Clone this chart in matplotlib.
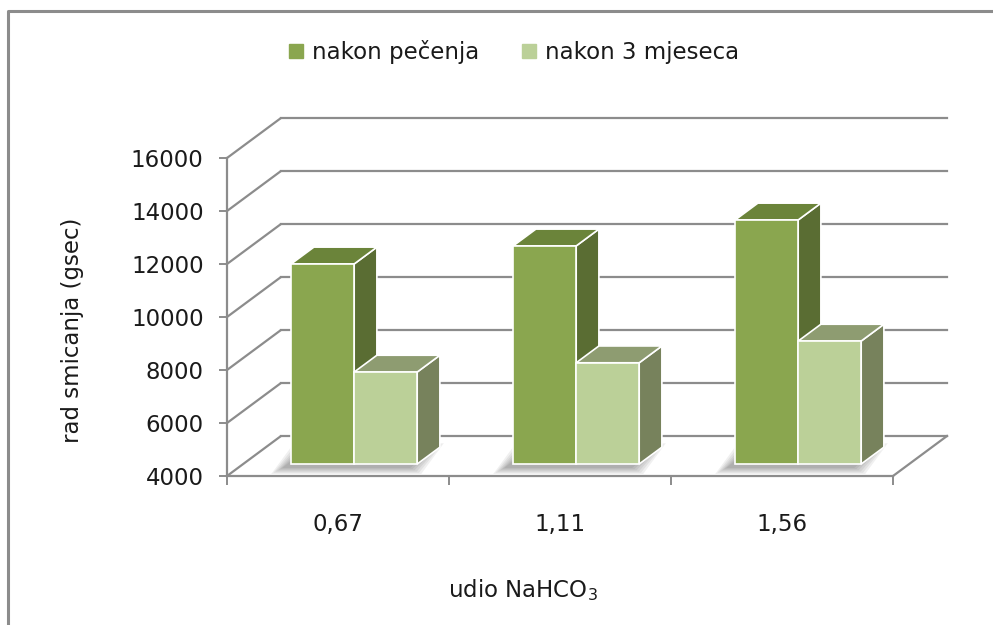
import matplotlib
matplotlib.use('Agg')
import matplotlib.pyplot as plt
from matplotlib.patches import Polygon
from matplotlib.lines import Line2D
import numpy as np

# data
categories = ['0,67', '1,11', '1,56']
after_baking = [11550, 12230, 13210]      # nakon pečenja
after_3_months = [7470, 7820, 8640]       # nakon 3 mjeseca
series_names = ['nakon pečenja', 'nakon 3 mjeseca']
y_ticks = [4000, 6000, 8000, 10000, 12000, 14000, 16000]

# colours (front, top, side)
dark = ('#8aa64f', '#6b843a', '#5a6d33')
light = ('#bbd098', '#8e9c71', '#77825c')
grid_c = '#8c8c8c'
text_c = '#1a1a1a'
fs = 16.5

plt.rcParams['font.family'] = ['DejaVu Sans']
W, H, DPI = 993, 625, 100
fig = plt.figure(figsize=(W / DPI, H / DPI), dpi=DPI)
ax = fig.add_axes([0, 0, 1, 1])

# pixel layout of the front plane
px_left, cat_px = 227, 222          # x: category edge 0 at 227px, 222px per category
y0_px, k = 476, 318 / 12000         # y: 4000 at 476px from top, px per unit
ymin = y_ticks[0]
ax.set_xlim(-px_left / cat_px, (W - px_left) / cat_px)
ax.set_ylim(ymin - (H - y0_px) / k, ymin + y0_px / k)

# 3d depth offset (full floor depth)
DX, DY = 54 / cat_px, 40 / k
d_front, d_back = 0.30, 0.72
ncat = len(categories)

# walls: side wall diagonals + back wall lines
for v in y_ticks:
    ax.plot([0, DX], [v, v + DY], color=grid_c, lw=1.6, zorder=1, solid_capstyle='butt')
    ax.plot([DX, ncat + DX], [v + DY, v + DY], color=grid_c, lw=1.6, zorder=1)
ax.plot([ncat, ncat + DX], [ymin, ymin + DY], color=grid_c, lw=1.6, zorder=1)

bar_w = 63 / cat_px
ox, oy = d_front * DX, d_front * DY
ddx, ddy = (d_back - d_front) * DX, (d_back - d_front) * DY
centers = np.arange(ncat) + 0.5

# soft shadow on the floor
for c in centers:
    xl = c - bar_w + ox
    xr = c + bar_w + ox
    for i in range(6):
        e = (1 + 2.2 * i) / cat_px
        ey = (1 + 1.2 * i) / k
        sx, sy = -8 / cat_px, -3 / k
        pts = [(xl - e + sx, ymin + oy - ey + sy), (xr + e + sx, ymin + oy - ey + sy),
               (xr + ddx + e + sx, ymin + oy + ddy + ey + sy),
               (xl + ddx - e + sx, ymin + oy + ddy + ey + sy)]
        ax.add_patch(Polygon(pts, closed=True, facecolor='black', edgecolor='none',
                             alpha=0.06, zorder=2))


def draw_bar(xl, val, cols, z):
    xr = xl + bar_w
    vb, vt = ymin + oy, val + oy
    side = [(xr, vb), (xr, vt), (xr + ddx, vt + ddy), (xr + ddx, vb + ddy)]
    top = [(xl, vt), (xr, vt), (xr + ddx, vt + ddy), (xl + ddx, vt + ddy)]
    ax.add_patch(Polygon(side, closed=True, facecolor=cols[2], edgecolor='white', lw=1.2, zorder=z))
    ax.add_patch(Polygon(top, closed=True, facecolor=cols[1], edgecolor='white', lw=1.2, zorder=z))
    ax.bar(xl, val - ymin, bottom=vb, width=bar_w, align='edge', color=cols[0],
           edgecolor='white', lw=1.2, zorder=z + 0.5)


for i, c in enumerate(centers):
    draw_bar(c - bar_w + ox, after_baking[i], dark, 3)
    draw_bar(c + ox, after_3_months[i], light, 4)

# axes / spines
for s in ['top', 'right']:
    ax.spines[s].set_visible(False)
ax.spines['left'].set_position(('data', 0))
ax.spines['left'].set_bounds(y_ticks[0], y_ticks[-1])
ax.spines['bottom'].set_position(('data', ymin))
ax.spines['bottom'].set_bounds(0, ncat)
for s in ['left', 'bottom']:
    ax.spines[s].set_color(grid_c)
    ax.spines[s].set_linewidth(1.6)
    ax.spines[s].set_zorder(1)

ax.set_yticks(y_ticks)
ax.set_yticklabels([str(t) for t in y_ticks])
ax.tick_params(axis='y', direction='out', length=5.8, width=1.4, color=grid_c,
               pad=11, labelsize=fs, labelcolor=text_c)
ax.set_xticks(centers)
ax.set_xticklabels(categories)
ax.set_xticks(np.arange(ncat + 1), minor=True)
ax.tick_params(axis='x', which='major', length=0, pad=27, labelsize=fs, labelcolor=text_c)
ax.tick_params(axis='x', which='minor', direction='out', length=6.5, width=1.4, color=grid_c)
ax.tick_params(axis='y', which='minor', length=0)

# titles
fig.text(72 / W, 1 - 330 / H, 'rad smicanja (gsec)', rotation=90, ha='center', va='center',
         fontsize=fs, color=text_c)
fig.text(523 / W, 1 - 590 / H, 'udio NaHCO$_3$', ha='center', va='center',
         fontsize=fs, color=text_c)

# legend
handles = [Line2D([], [], marker='s', ls='none', markersize=10, color=dark[0]),
           Line2D([], [], marker='s', ls='none', markersize=10, color=light[0])]
fig.legend(handles, series_names, loc='center', bbox_to_anchor=(513 / W, 1 - 52 / H),
           ncol=2, frameon=False, fontsize=fs, handlelength=0.8, handletextpad=0.3,
           columnspacing=1.8, labelcolor=text_c)

# chart frame (left and top edges visible)
fig.add_artist(Line2D([8 / W, 8 / W, 1.01], [-0.01, 1 - 11 / H, 1 - 11 / H],
                      transform=fig.transFigure, color=grid_c, lw=2.2))

fig.savefig('out.png', dpi=DPI)
plt.close(fig)
